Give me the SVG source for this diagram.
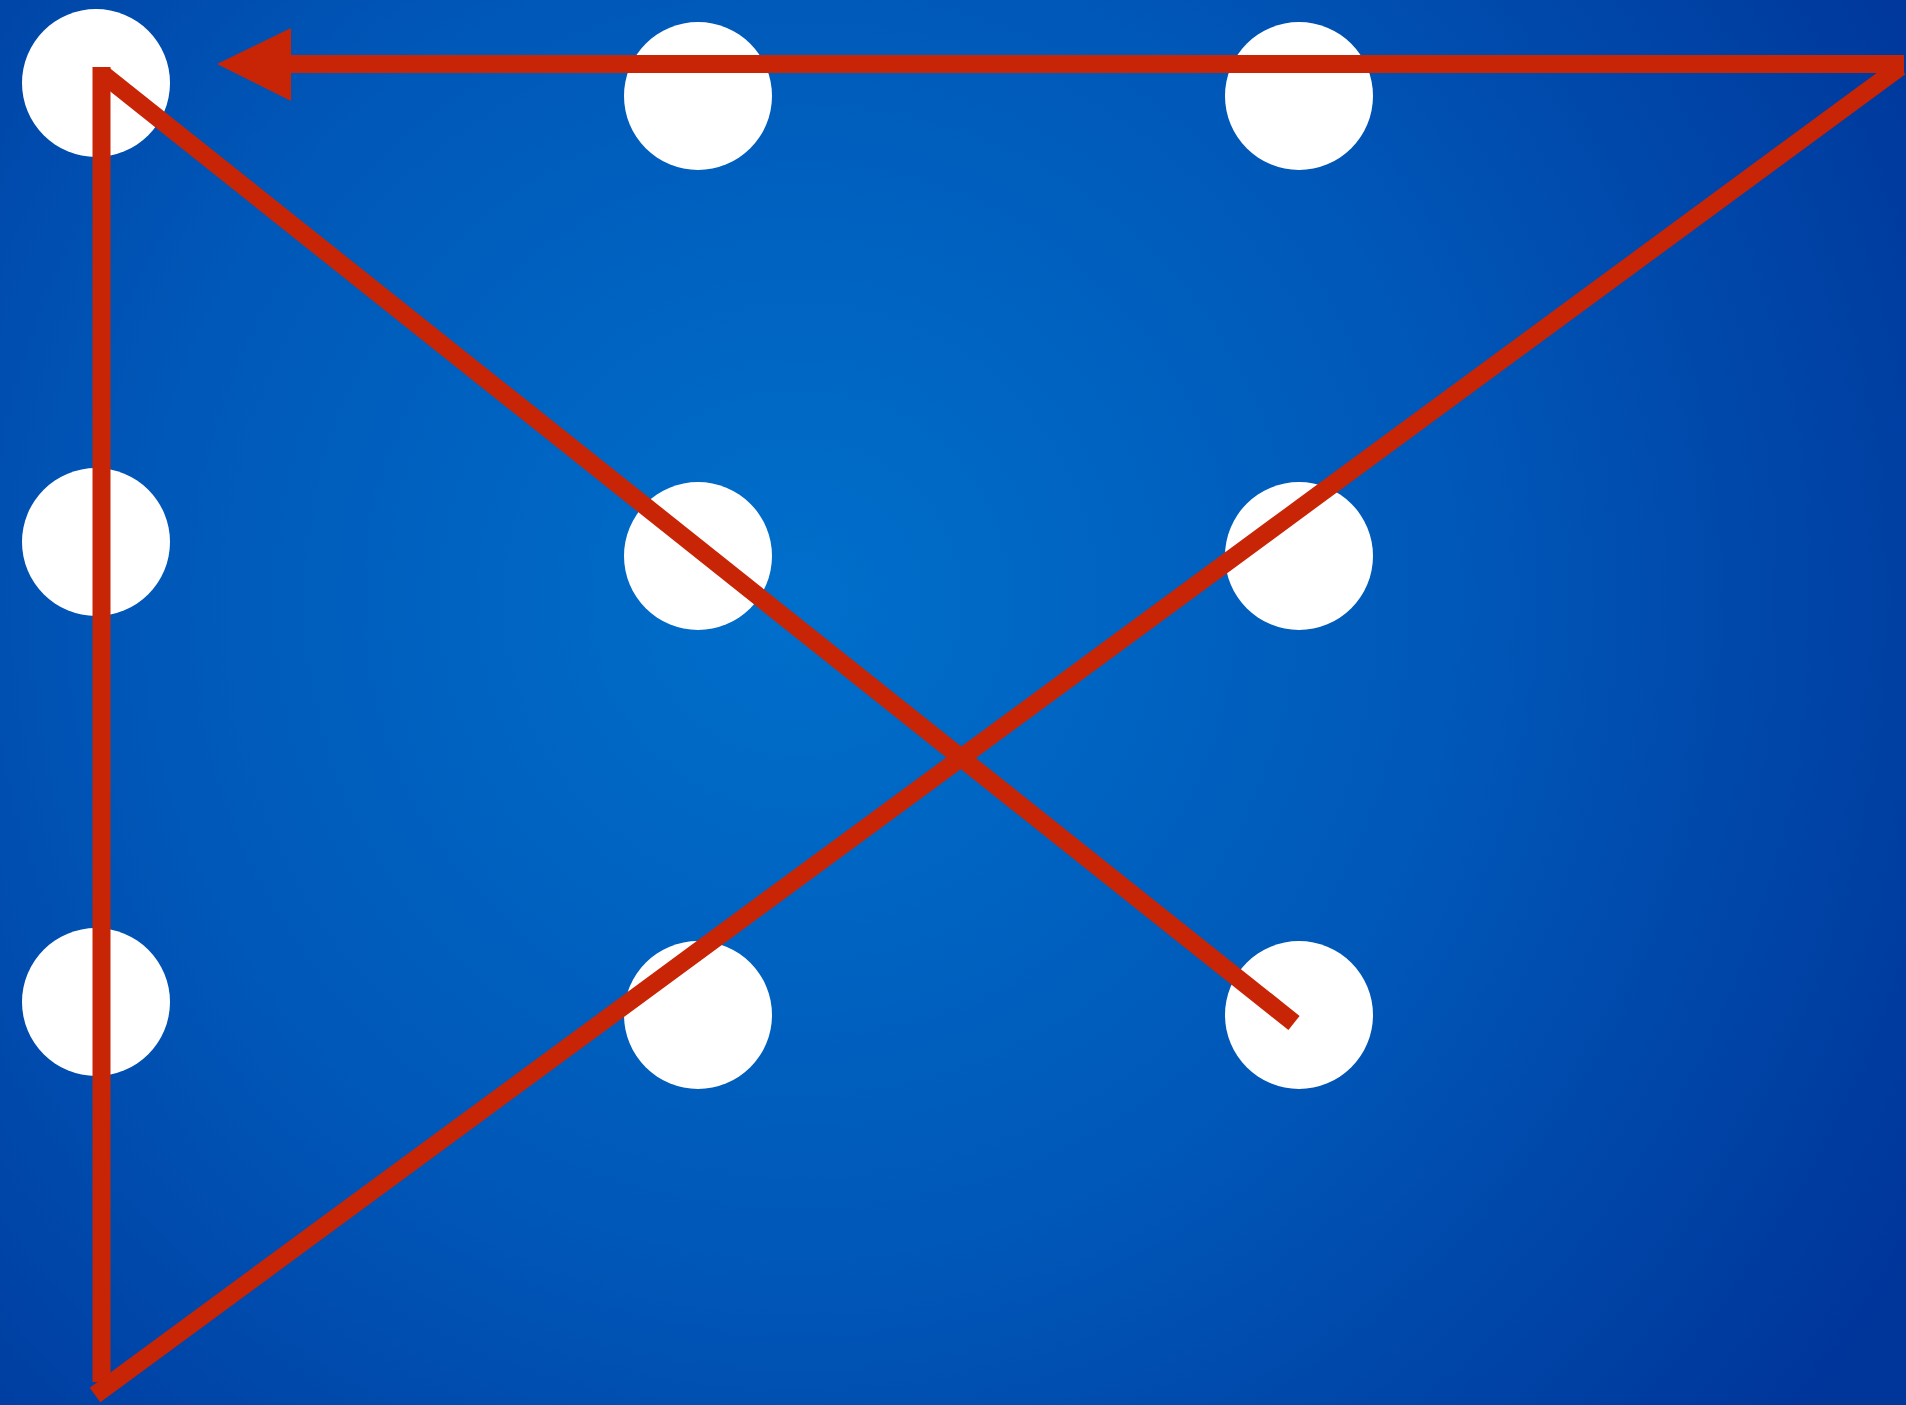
<svg xmlns="http://www.w3.org/2000/svg" width="1906" height="1405" viewBox="0 0 1906 1405">
<defs>
<radialGradient id="bg" cx="800" cy="600" r="1300" gradientUnits="userSpaceOnUse">
<stop offset="0" stop-color="#006fcb"/>
<stop offset="0.5" stop-color="#0058b8"/>
<stop offset="1" stop-color="#00359a"/>
</radialGradient>
</defs>
<style>
.dot{fill:#ffffff}
.ln{stroke:#c82406;stroke-width:18;fill:none;stroke-linecap:butt}
.hd{fill:#c82406}
</style>
<rect width="1906" height="1405" fill="url(#bg)"/>
<g id="dots">
<circle id="d11" class="dot" cx="96" cy="83" r="74"/>
<circle id="d12" class="dot" cx="698" cy="96" r="74"/>
<circle id="d13" class="dot" cx="1299" cy="96" r="74"/>
<circle id="d21" class="dot" cx="96" cy="542" r="74"/>
<circle id="d22" class="dot" cx="698" cy="556" r="74"/>
<circle id="d23" class="dot" cx="1299" cy="556" r="74"/>
<circle id="d31" class="dot" cx="96" cy="1002" r="74"/>
<circle id="d32" class="dot" cx="698" cy="1015" r="74"/>
<circle id="d33" class="dot" cx="1299" cy="1015" r="74"/>
</g>
<g id="connectors">
<line class="ln" x1="1294" y1="1023" x2="104" y2="75"/>
<line class="ln" x1="101.5" y1="67" x2="101.5" y2="1382"/>
<line class="ln" x1="95" y1="1395" x2="1900" y2="67"/>
<line class="ln" x1="1904" y1="64" x2="288" y2="64"/>
<polygon class="hd" points="217,64 291,28 291,101"/>
</g>
</svg>
